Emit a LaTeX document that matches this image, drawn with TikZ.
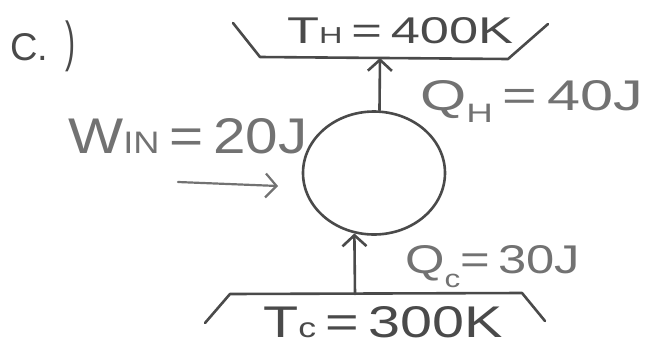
\documentclass[tikz,border=0pt]{standalone}
\usepackage{fontspec}
\setmainfont{Liberation Sans}
\usepackage{graphicx}
\usetikzlibrary{arrows.meta,shapes.geometric}
\definecolor{ink}{HTML}{4A4A4A}
\definecolor{pencil}{HTML}{727272}
\newcommand{\mysub}[2]{\raisebox{#1}{\scalebox{0.62}{#2}}}
\begin{document}
\begin{tikzpicture}[x=1pt,y=-1pt,
  wire/.style={draw=ink, line width=2.6pt, line cap=round, line join=round},
  flow/.style={wire, -{Straight Barb[length=11pt,width=24pt]}},
  workflow/.style={flow, draw=pencil, line width=2.2pt},
  lbl/.style={text=pencil, inner sep=0pt, anchor=base west},
  dark/.style={lbl, text=ink},
  device/.style={ellipse, draw=ink, line width=2.6pt, minimum width=142pt, minimum height=123pt, inner sep=0pt}]
\useasboundingbox (0,0) rectangle (645,346);
\fill[white] (0,0) rectangle (645,346);

% part label
\node[dark] (part) at (10,60) {\resizebox{38pt}{27pt}{C.}\hspace{17pt}\resizebox*{10pt}{51pt}{)}};

% hot reservoir
\coordinate (hL) at (233,23);
\coordinate (hBL) at (260,57);
\coordinate (hBR) at (508,59);
\coordinate (hR) at (548,24);
\draw[wire] (hL) -- (hBL) -- (hBR) -- (hR);
\node[dark] (th) at (287,43) {\resizebox{226pt}{26pt}{T\mysub{0em}{H}\,=\,400K}};

% cold reservoir
\coordinate (cL) at (205,323);
\coordinate (cTL) at (230,294);
\coordinate (cTR) at (522,293);
\coordinate (cR) at (545,321);
\draw[wire] (cL) -- (cTL) -- (cTR) -- (cR);
\node[dark] (tc) at (263,337) {\resizebox{240pt}{31pt}{T\mysub{0em}{c}\,=\,300K}};

% device
\node[device] (dev) at (374,173) {};

% heat flows
\coordinate (hIn) at (380,58);
\draw[flow] (dev.85) -- (hIn);
\coordinate (cOut) at (355,294);
\draw[flow] (cOut) -- (dev.252);

% work input
\coordinate (wS) at (178,182);
\coordinate (wE) at (278,186);
\draw[workflow] (wS) -- (wE);

% labels
\node[lbl] (qh) at (420,110) {\resizebox{223pt}{30pt}{Q\mysub{-0.3em}{H}\,=\,40J}};
\node[lbl] (win) at (68,153) {\resizebox{239pt}{35pt}{W\mysub{0em}{IN}\,=\,20J}};
\node[lbl] (qc) at (405,273) {\resizebox{175pt}{28pt}{Q\mysub{-0.35em}{c}=\,30J}};
\end{tikzpicture}
\end{document}
